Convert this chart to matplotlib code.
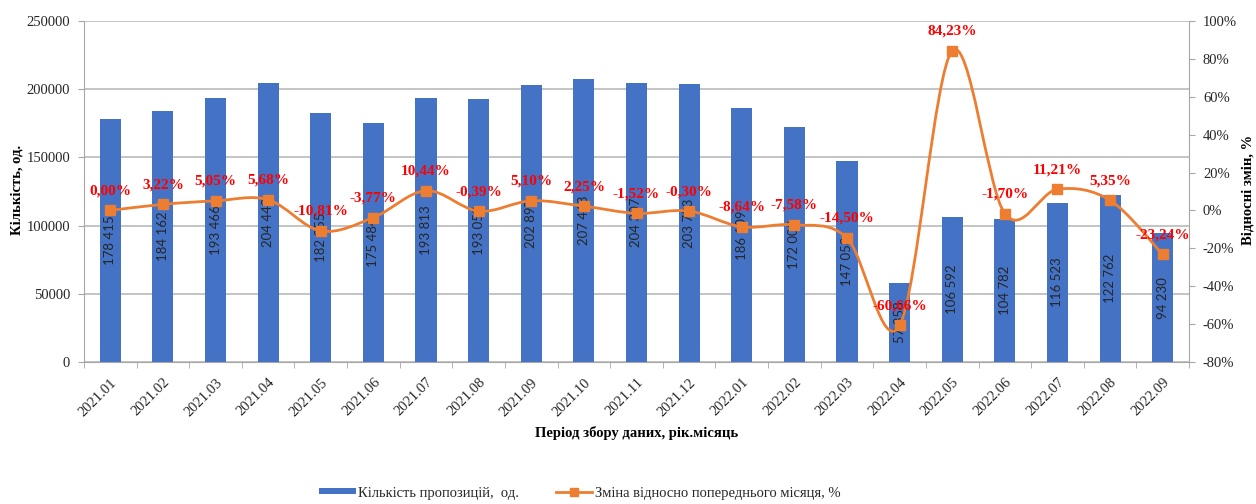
import numpy as np
import matplotlib
matplotlib.use('Agg')
import matplotlib.pyplot as plt
import matplotlib.transforms as mtransforms
from matplotlib.path import Path
from matplotlib.patches import PathPatch, Patch
from matplotlib.lines import Line2D
from matplotlib.ticker import FixedLocator, FuncFormatter

# Data
months = ['2021.01', '2021.02', '2021.03', '2021.04', '2021.05', '2021.06', '2021.07',
          '2021.08', '2021.09', '2021.10', '2021.11', '2021.12', '2022.01', '2022.02',
          '2022.03', '2022.04', '2022.05', '2022.06', '2022.07', '2022.08', '2022.09']
offers = [178415, 184162, 193466, 204448, 182355, 175484, 193813, 193050, 202897, 207468,
          204307, 203703, 186109, 172003, 147058, 57858, 106592, 104782, 116523, 122762, 94230]
change = [0.00, 3.22, 5.05, 5.68, -10.81, -3.77, 10.44, -0.39, 5.10, 2.25, -1.52, -0.30,
          -8.64, -7.58, -14.50, -60.66, 84.23, -1.70, 11.21, 5.35, -23.24]

BAR_COLOR = '#4472C4'
LINE_COLOR = '#ED7D31'
GRID_COLOR = '#BFBFBF'
SPINE_COLOR = '#A6A6A6'
TEXT_COLOR = '#262626'
SERIF = 'Liberation Serif'


def smooth_path(x, y):
    # Excel-like smoothed line (Catmull-Rom as cubic Bezier)
    pts = np.column_stack([x, y]).astype(float)
    n = len(pts)
    verts = [pts[0]]
    codes = [Path.MOVETO]
    for i in range(n - 1):
        p0 = pts[max(i - 1, 0)]
        p1 = pts[i]
        p2 = pts[i + 1]
        p3 = pts[min(i + 2, n - 1)]
        verts += [p1 + (p2 - p0) / 6, p2 - (p3 - p1) / 6, p2]
        codes += [Path.CURVE4] * 3
    return Path(verts, codes)


plt.rcParams['font.family'] = SERIF
plt.rcParams['font.size'] = 10.5

fig = plt.figure(figsize=(12.56, 5.04), dpi=100, facecolor='white')
ax = fig.add_axes([84 / 1256, 1 - 362 / 504, (1189 - 84) / 1256, (362 - 21) / 504])
ax2 = ax.twinx()

x = np.arange(len(months))

# Bars
ax.bar(x, offers, width=0.4, color=BAR_COLOR, zorder=2)
for xi, v in zip(x, offers):
    ax.text(xi, v / 2, f'{v:,}'.replace(',', ' '), rotation=90, ha='center', va='center',
            family='Lato', fontsize=9.5, color=TEXT_COLOR, zorder=3)

ax.set_xlim(-0.5, len(months) - 0.5)
ax.set_ylim(0, 250000)
ax.set_yticks(np.arange(0, 250001, 50000))
ax.yaxis.grid(True, color=GRID_COLOR, linewidth=1.3, zorder=0)
ax.set_axisbelow(True)

ax.set_xticks(x)
ax.set_xticklabels(months, rotation=45, ha='right', va='top', rotation_mode='anchor')
shift = mtransforms.ScaledTranslation(-5 / 100, 0, fig.dpi_scale_trans)
for lbl in ax.get_xticklabels():
    lbl.set_transform(lbl.get_transform() + shift)
ax.xaxis.set_minor_locator(FixedLocator(np.arange(-0.5, len(months), 1)))
ax.tick_params(axis='x', which='major', length=0, pad=10, colors=TEXT_COLOR)
ax.tick_params(axis='x', which='minor', length=4, color=SPINE_COLOR)
ax.tick_params(axis='y', length=4, color=SPINE_COLOR, colors=TEXT_COLOR, pad=6)
ax.tick_params(axis='y', color=SPINE_COLOR)

for side in ['top', 'right']:
    ax.spines[side].set_visible(False)
ax.spines['left'].set_color(SPINE_COLOR)
ax.spines['bottom'].set_color(SPINE_COLOR)

# Line on secondary axis
ax2.add_patch(PathPatch(smooth_path(x, change), fill=False, edgecolor=LINE_COLOR,
                        linewidth=2.0, zorder=3))
ax2.plot(x, change, linestyle='none', marker='s', markersize=6.5, color=LINE_COLOR, zorder=4)
for xi, v in zip(x, change):
    ax2.annotate(f'{v:.2f}%'.replace('.', ','), (xi, v), xytext=(0, 14),
                 textcoords='offset points', ha='center', va='center',
                 color='#FF0000', fontweight='bold', fontsize=11, zorder=5)

ax2.set_ylim(-80, 100)
ax2.set_yticks(np.arange(-80, 101, 20))
ax2.yaxis.set_major_formatter(FuncFormatter(lambda v, p: f'{v:.0f}%'))
ax2.tick_params(axis='y', length=4, color=SPINE_COLOR, colors=TEXT_COLOR, pad=6)
for side in ['top', 'left', 'bottom']:
    ax2.spines[side].set_visible(False)
ax2.spines['right'].set_color(SPINE_COLOR)

# Axis titles
fig.text(17 / 1256, 1 - 190 / 504, 'Кількість, од.', rotation=90, ha='center', va='center',
         fontweight='bold', fontsize=10.5, color='black')
fig.text(1248 / 1256, 1 - 190 / 504, 'Відносні змін, %', rotation=90, ha='center', va='center',
         fontweight='bold', fontsize=10.5, color='black')
fig.text(637 / 1256, 1 - 433 / 504, 'Період збору даних, рік.місяць', ha='center', va='center',
         fontweight='bold', fontsize=10.5, color='black')

# Legend
handles = [Patch(facecolor=BAR_COLOR, edgecolor='none'),
           Line2D([0], [0], color=LINE_COLOR, linewidth=2.0, marker='s', markersize=6)]
labels = ['Кількість пропозицій,  од.', 'Зміна відносно попереднього місяця, %']
leg = fig.legend(handles, labels, loc='center', bbox_to_anchor=(580 / 1256, 1 - 493 / 504),
                 ncol=2, frameon=False, fontsize=10.5, handlelength=2.5, handleheight=0.3,
                 handletextpad=0.2, columnspacing=2.5)
for t in leg.get_texts():
    t.set_color(TEXT_COLOR)

fig.savefig('out.png', dpi=100, facecolor='white')
